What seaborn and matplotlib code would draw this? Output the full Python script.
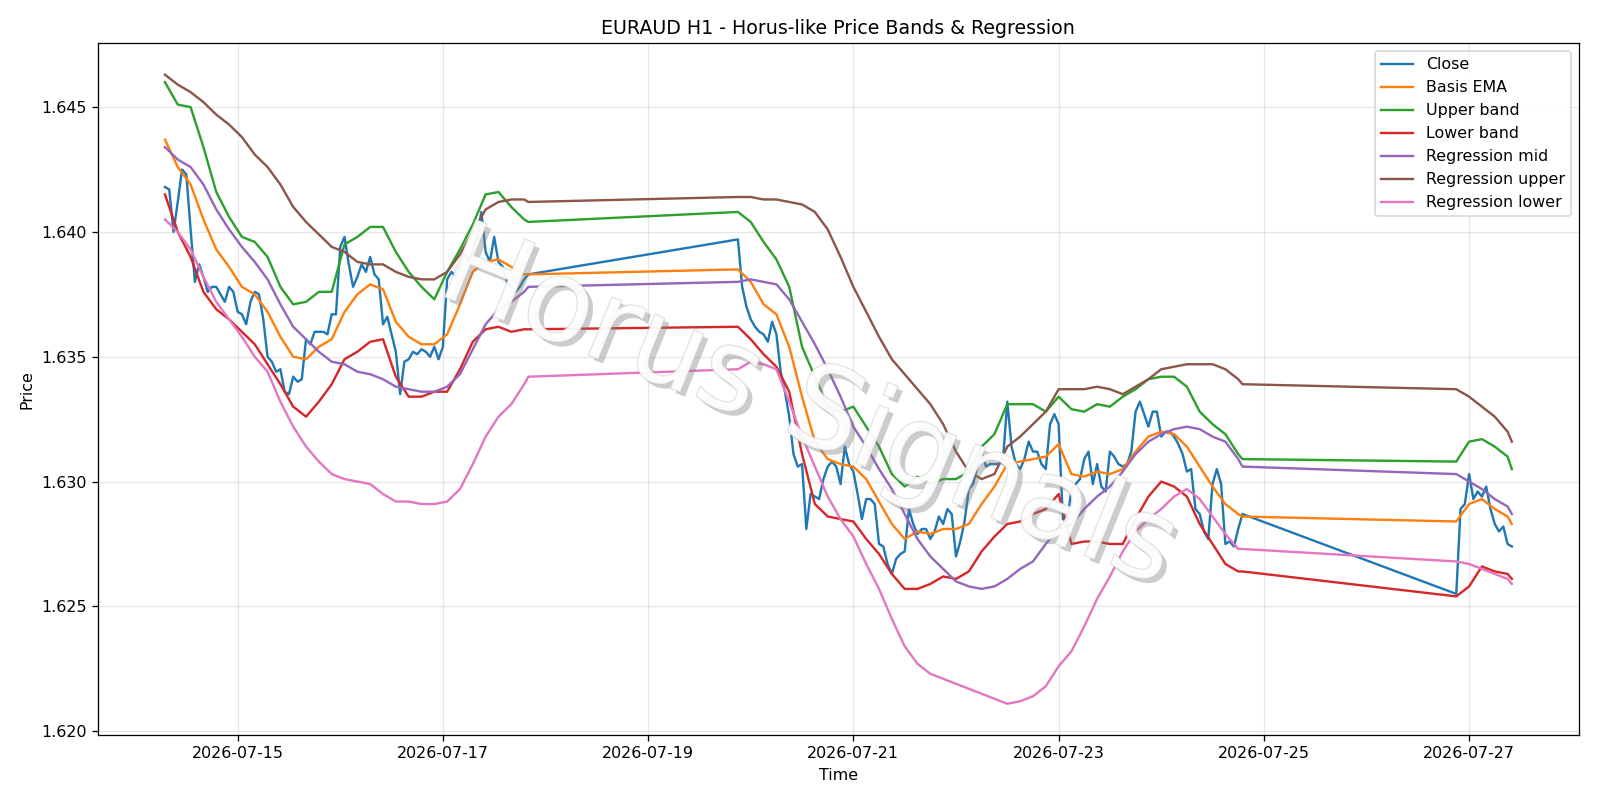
import pandas as pd
import matplotlib
matplotlib.use("Agg")
import matplotlib.pyplot as plt
import matplotlib.dates as mdates
import matplotlib.patheffects as pe
import seaborn as sns

# --- trading stretches (weekend gaps between them) ---
seg_bounds = [("2026-07-14 07:00", "2026-07-17 20:00"),
              ("2026-07-19 21:00", "2026-07-24 19:00"),
              ("2026-07-26 21:00", "2026-07-27 10:00")]

# hourly close
close = [
    # 07-14 07:00 -> 07-17 20:00
    1.6418, 1.6417, 1.6400, 1.6412, 1.6425, 1.6423, 1.6401, 1.6380, 1.6387, 1.6382,
    1.6376, 1.6378, 1.6378, 1.6375, 1.6372, 1.6378, 1.6376, 1.6368, 1.6367, 1.6363,
    1.6372, 1.6376, 1.6375, 1.6365, 1.6350, 1.6348, 1.6344, 1.6345, 1.6336, 1.6335,
    1.6342, 1.6340, 1.6341, 1.6357, 1.6355, 1.6360, 1.6360, 1.6360, 1.6359, 1.6367,
    1.6367, 1.6394, 1.6398, 1.6387, 1.6378, 1.6382, 1.6387, 1.6384, 1.6390, 1.6383,
    1.6381, 1.6363, 1.6366, 1.6359, 1.6352, 1.6335, 1.6348, 1.6349, 1.6352, 1.6351,
    1.6353, 1.6352, 1.6350, 1.6354, 1.6349, 1.6354, 1.6381, 1.6384, 1.6382, 1.6386,
    1.6392, 1.6388, 1.6392, 1.6398, 1.6408, 1.6392, 1.6388, 1.6398, 1.6388, 1.6386,
    1.6380, 1.6378, 1.6376, 1.6378, 1.6381, 1.6383,
    # 07-19 21:00 -> 07-24 19:00
    1.6397, 1.6378, 1.6370, 1.6365, 1.6362, 1.6360, 1.6359, 1.6356, 1.6364, 1.6359,
    1.6344, 1.6336, 1.6326, 1.6311, 1.6306, 1.6307, 1.6281, 1.6295, 1.6294, 1.6293,
    1.6301, 1.6306, 1.6308, 1.6306, 1.6299, 1.6314, 1.6307, 1.6304, 1.6295, 1.6285,
    1.6293, 1.6293, 1.6291, 1.6275, 1.6274, 1.6267, 1.6263, 1.6269, 1.6271, 1.6272,
    1.6289, 1.6283, 1.6279, 1.6281, 1.6281, 1.6277, 1.6280, 1.6286, 1.6283, 1.6289,
    1.6287, 1.6270, 1.6276, 1.6284, 1.6297, 1.6299, 1.6306, 1.6312, 1.6306, 1.6307,
    1.6307, 1.6307, 1.6309, 1.6332, 1.6314, 1.6307, 1.6305, 1.6309, 1.6316, 1.6312,
    1.6312, 1.6307, 1.6305, 1.6323, 1.6327, 1.6323, 1.6285, 1.6284, 1.6297, 1.6299,
    1.6301, 1.6309, 1.6312, 1.6299, 1.6307, 1.6298, 1.6296, 1.6312, 1.6310, 1.6307,
    1.6306, 1.6307, 1.6312, 1.6328, 1.6332, 1.6327, 1.6322, 1.6328, 1.6328, 1.6318,
    1.6320, 1.6320, 1.6318, 1.6315, 1.6311, 1.6304, 1.6305, 1.6289, 1.6287, 1.6280,
    1.6277, 1.6299, 1.6305, 1.6299, 1.6275, 1.6276, 1.6274, 1.6281, 1.6287,
    # 07-26 21:00 -> 07-27 10:00
    1.6255, 1.6289, 1.6291, 1.6303, 1.6293, 1.6296, 1.6294, 1.6298, 1.6289, 1.6283,
    1.6280, 1.6282, 1.6275, 1.6274,
]

# smoothed lines, read every 3 hours (plus the last bar of each stretch)
basis_ema = [
    1.6437, 1.6426, 1.6419, 1.6405, 1.6393, 1.6386, 1.6378, 1.6375, 1.6368, 1.6358,
    1.6350, 1.6349, 1.6354, 1.6357, 1.6368, 1.6375, 1.6379, 1.6377, 1.6364, 1.6358,
    1.6355, 1.6355, 1.6359, 1.6371, 1.6384, 1.6388, 1.6389, 1.6386, 1.6383, 1.6383,
    1.6385, 1.6380, 1.6371, 1.6367, 1.6354, 1.6334, 1.6316, 1.6309, 1.6307, 1.6306,
    1.6301, 1.6292, 1.6283, 1.6277, 1.6280, 1.6279, 1.6281, 1.6281, 1.6283, 1.6291,
    1.6298, 1.6307, 1.6308, 1.6309, 1.6310, 1.6315, 1.6303, 1.6302, 1.6304, 1.6303,
    1.6305, 1.6312, 1.6318, 1.6320, 1.6319, 1.6314, 1.6306, 1.6298, 1.6291, 1.6287,
    1.6286,
    1.6284, 1.6291, 1.6293, 1.6289, 1.6286, 1.6283,
]
upper_band = [
    1.6460, 1.6451, 1.6450, 1.6434, 1.6416, 1.6406, 1.6398, 1.6396, 1.6390, 1.6378,
    1.6371, 1.6372, 1.6376, 1.6376, 1.6395, 1.6398, 1.6402, 1.6402, 1.6392, 1.6384,
    1.6378, 1.6373, 1.6384, 1.6393, 1.6403, 1.6415, 1.6416, 1.6410, 1.6405, 1.6404,
    1.6408, 1.6404, 1.6396, 1.6389, 1.6378, 1.6354, 1.6342, 1.6330, 1.6328, 1.6330,
    1.6322, 1.6314, 1.6303, 1.6298, 1.6302, 1.6299, 1.6301, 1.6301, 1.6304, 1.6314,
    1.6319, 1.6331, 1.6331, 1.6331, 1.6328, 1.6334, 1.6329, 1.6328, 1.6331, 1.6330,
    1.6334, 1.6337, 1.6341, 1.6342, 1.6342, 1.6338, 1.6328, 1.6323, 1.6319, 1.6311,
    1.6309,
    1.6308, 1.6316, 1.6317, 1.6314, 1.6310, 1.6305,
]
lower_band = [
    1.6415, 1.6400, 1.6390, 1.6376, 1.6369, 1.6365, 1.6360, 1.6355, 1.6347, 1.6339,
    1.6330, 1.6326, 1.6332, 1.6339, 1.6349, 1.6352, 1.6356, 1.6357, 1.6342, 1.6334,
    1.6334, 1.6336, 1.6336, 1.6345, 1.6356, 1.6361, 1.6362, 1.6360, 1.6361, 1.6361,
    1.6362, 1.6357, 1.6351, 1.6346, 1.6336, 1.6311, 1.6291, 1.6286, 1.6285, 1.6284,
    1.6277, 1.6271, 1.6263, 1.6257, 1.6257, 1.6259, 1.6262, 1.6261, 1.6264, 1.6272,
    1.6278, 1.6283, 1.6284, 1.6287, 1.6289, 1.6295, 1.6275, 1.6276, 1.6276, 1.6275,
    1.6275, 1.6285, 1.6294, 1.6300, 1.6298, 1.6294, 1.6283, 1.6275, 1.6267, 1.6264,
    1.6264,
    1.6254, 1.6258, 1.6266, 1.6264, 1.6263, 1.6261,
]
reg_mid = [
    1.6434, 1.6429, 1.6426, 1.6419, 1.6409, 1.6401, 1.6394, 1.6388, 1.6381, 1.6371,
    1.6362, 1.6357, 1.6352, 1.6348, 1.6347, 1.6344, 1.6343, 1.6341, 1.6338, 1.6337,
    1.6336, 1.6336, 1.6338, 1.6343, 1.6353, 1.6363, 1.6369, 1.6372, 1.6376, 1.6378,
    1.6380, 1.6381, 1.6380, 1.6379, 1.6373, 1.6364, 1.6355, 1.6345, 1.6334, 1.6322,
    1.6314, 1.6305, 1.6297, 1.6287, 1.6277, 1.6270, 1.6265, 1.6260, 1.6258, 1.6257,
    1.6258, 1.6261, 1.6265, 1.6268, 1.6275, 1.6281, 1.6283, 1.6289, 1.6294, 1.6298,
    1.6304, 1.6311, 1.6316, 1.6319, 1.6321, 1.6322, 1.6321, 1.6318, 1.6316, 1.6309,
    1.6306,
    1.6303, 1.6300, 1.6297, 1.6293, 1.6290, 1.6287,
]
reg_upper = [
    1.6463, 1.6459, 1.6456, 1.6452, 1.6447, 1.6443, 1.6438, 1.6431, 1.6426, 1.6419,
    1.6410, 1.6404, 1.6399, 1.6394, 1.6392, 1.6388, 1.6387, 1.6387, 1.6384, 1.6382,
    1.6381, 1.6381, 1.6384, 1.6391, 1.6400, 1.6409, 1.6412, 1.6413, 1.6413, 1.6412,
    1.6414, 1.6414, 1.6413, 1.6413, 1.6412, 1.6411, 1.6408, 1.6401, 1.6390, 1.6378,
    1.6368, 1.6358, 1.6349, 1.6343, 1.6337, 1.6331, 1.6323, 1.6312, 1.6304, 1.6301,
    1.6303, 1.6314, 1.6318, 1.6323, 1.6328, 1.6337, 1.6337, 1.6337, 1.6338, 1.6337,
    1.6335, 1.6338, 1.6341, 1.6345, 1.6346, 1.6347, 1.6347, 1.6347, 1.6345, 1.6341,
    1.6339,
    1.6337, 1.6334, 1.6330, 1.6326, 1.6320, 1.6316,
]
reg_lower = [
    1.6405, 1.6400, 1.6393, 1.6382, 1.6372, 1.6365, 1.6358, 1.6350, 1.6344, 1.6332,
    1.6322, 1.6314, 1.6308, 1.6303, 1.6301, 1.6300, 1.6299, 1.6295, 1.6292, 1.6292,
    1.6291, 1.6291, 1.6292, 1.6297, 1.6307, 1.6318, 1.6326, 1.6331, 1.6339, 1.6342,
    1.6345, 1.6348, 1.6347, 1.6345, 1.6332, 1.6318, 1.6306, 1.6294, 1.6285, 1.6278,
    1.6267, 1.6257, 1.6245, 1.6234, 1.6227, 1.6223, 1.6221, 1.6219, 1.6217, 1.6215,
    1.6213, 1.6211, 1.6212, 1.6214, 1.6218, 1.6226, 1.6232, 1.6242, 1.6253, 1.6262,
    1.6272, 1.6280, 1.6285, 1.6289, 1.6294, 1.6297, 1.6293, 1.6286, 1.6279, 1.6273,
    1.6273,
    1.6268, 1.6267, 1.6265, 1.6263, 1.6261, 1.6259,
]

# timestamps
hourly = [pd.date_range(a, b, freq="h") for a, b in seg_bounds]
t_close = hourly[0].append(hourly[1]).append(hourly[2])

def every_3h(t):
    idx = list(range(0, len(t), 3))
    if idx[-1] != len(t) - 1:
        idx.append(len(t) - 1)
    return t[idx]

t_smooth = every_3h(hourly[0]).append(every_3h(hourly[1])).append(every_3h(hourly[2]))

fig, ax = plt.subplots(figsize=(14, 7), dpi=1600 / 14)
fig.subplots_adjust(left=0.061, right=0.987, top=0.946, bottom=0.081)

series = [
    (t_close, close, "Close"),
    (t_smooth, basis_ema, "Basis EMA"),
    (t_smooth, upper_band, "Upper band"),
    (t_smooth, lower_band, "Lower band"),
    (t_smooth, reg_mid, "Regression mid"),
    (t_smooth, reg_upper, "Regression upper"),
    (t_smooth, reg_lower, "Regression lower"),
]
for i, (t, y, name) in enumerate(series):
    sns.lineplot(x=t, y=y, ax=ax, label=name, color=f"C{i}", linewidth=1.5, estimator=None)

ax.xaxis.set_major_locator(mdates.DayLocator(interval=2))
ax.xaxis.set_major_formatter(mdates.DateFormatter("%Y-%m-%d"))
ax.grid(True, alpha=0.3)
ax.set_title("EURAUD H1 - Horus-like Price Bands & Regression")
ax.set_xlabel("Time")
ax.set_ylabel("Price")
ax.legend(loc="upper right")

# watermark
ax.text(0.48, 0.47, "Horus Signals", transform=ax.transAxes, fontsize=72,
        color="white", alpha=0.6, rotation=-22, ha="center", va="center",
        zorder=10,
        path_effects=[pe.withSimplePatchShadow(offset=(3, -3), shadow_rgbFace="gray", alpha=0.4),
                      pe.Stroke(linewidth=1.0, foreground="#c8c8c8"),
                      pe.Normal()])

plt.savefig("out.png")
plt.close()
